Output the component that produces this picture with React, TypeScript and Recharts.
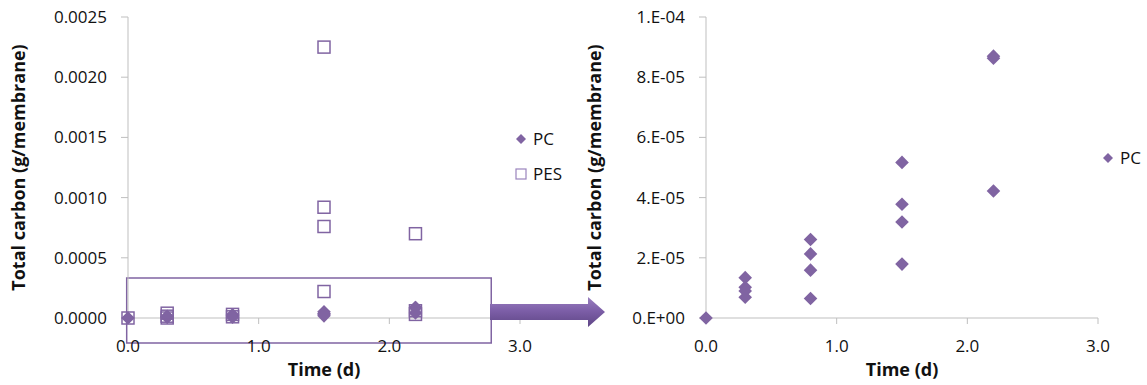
import { ScatterChart, Scatter, XAxis, YAxis, ReferenceArea, Legend } from 'recharts'

// time points (d) and total carbon (g/membrane)
const PC_TIME = [0, 0.3, 0.3, 0.3, 0.3, 0.8, 0.8, 0.8, 0.8, 1.5, 1.5, 1.5, 1.5, 2.2, 2.2, 2.2]
const PC_CARBON = [
  0, 1.34e-5, 1.02e-5, 0.9e-5, 0.69e-5, 2.61e-5, 2.13e-5, 1.59e-5, 0.65e-5, 5.17e-5, 3.78e-5, 3.19e-5,
  1.79e-5, 8.7e-5, 8.63e-5, 4.22e-5,
]
const PES_TIME = [0, 0.3, 0.3, 0.3, 0.8, 0.8, 1.5, 1.5, 1.5, 1.5, 2.2, 2.2, 2.2]
const PES_CARBON = [0, 4e-5, 1.5e-5, 0, 3e-5, 1e-5, 2.25e-3, 9.2e-4, 7.6e-4, 2.2e-4, 7e-4, 6e-5, 3e-5]

const X_TICKS = [0, 1, 2, 3]
const LEFT_Y_TICKS = [0, 0.0005, 0.001, 0.0015, 0.002, 0.0025]
const RIGHT_Y_TICKS = [0, 2e-5, 4e-5, 6e-5, 8e-5, 1e-4]
const RIGHT_Y_LABELS = ['0.E+00', '2.E-05', '4.E-05', '6.E-05', '8.E-05', '1.E-04']

// zoom box drawn on the left chart (data units)
const ZOOM_X = [-0.01, 2.78]
const ZOOM_Y = [-0.000208, 0.000332]

const PURPLE = '#8064A2'
const AXIS = '#BFBFBF'
const FONT = '"Open Sans", sans-serif'

const pcData = PC_TIME.map((t, i) => ({ t, c: PC_CARBON[i] }))
const pesData = PES_TIME.map((t, i) => ({ t, c: PES_CARBON[i] }))

const tickStyle = { fontSize: 17, fill: '#111', fontFamily: FONT }
const titleStyle = { fontSize: 18, fontWeight: 700, fill: '#111', fontFamily: FONT }

const Diamond = ({ cx, cy }: { cx?: number; cy?: number }) => {
  if (cx == null || cy == null) return null
  const r = 6.8
  return <polygon points={`${cx},${cy - r} ${cx + r},${cy} ${cx},${cy + r} ${cx - r},${cy}`} fill={PURPLE} />
}

const OpenSquare = ({ cx, cy }: { cx?: number; cy?: number }) => {
  if (cx == null || cy == null) return null
  return <rect x={cx - 6} y={cy - 6} width={12} height={12} fill="none" stroke={PURPLE} strokeWidth={1.5} />
}

const LegendIcon = ({ type }: { type: string }) => (
  <svg width={12} height={12} style={{ display: 'block' }}>
    {type === 'square' ? (
      <rect x={1} y={1} width={10} height={10} fill="none" stroke="#9a84bd" strokeWidth={1.2} />
    ) : (
      <polygon points="6,1 11,6 6,11 1,6" fill={PURPLE} />
    )}
  </svg>
)

const ICONS: Record<string, string> = { PC: 'diamond', PES: 'square' }

const renderLegend = (props: any) => {
  const { payload = [] } = props
  return (
    <div style={{ fontFamily: FONT, fontSize: 17, color: '#111' }}>
      {payload.map((entry: any) => (
        <div key={entry.value} style={{ display: 'flex', alignItems: 'center', height: 35 }}>
          <LegendIcon type={ICONS[entry.value]} />
          <span style={{ marginLeft: 6 }}>{entry.value}</span>
        </div>
      ))}
    </div>
  )
}

export default function App() {
  return (
    <div style={{ position: 'absolute', left: 0, top: 0, width: 1147, height: 385, background: '#fff' }}>
      <div style={{ position: 'absolute', left: 0, top: 0 }}>
        <ScatterChart width={560} height={385} margin={{ top: 17, right: 40, bottom: 0, left: 0 }}>
          <XAxis
            type="number"
            dataKey="t"
            domain={[0, 3]}
            ticks={X_TICKS}
            tickFormatter={(v: number) => v.toFixed(1)}
            stroke={AXIS}
            tick={tickStyle}
            tickSize={6}
            tickMargin={16}
            height={67}
            label={{ value: 'Time (d)', position: 'insideBottom', offset: 9, style: titleStyle }}
          />
          <YAxis
            type="number"
            dataKey="c"
            domain={[0, 0.0025]}
            ticks={LEFT_Y_TICKS}
            tickFormatter={(v: number) => v.toFixed(4)}
            stroke={AXIS}
            tick={tickStyle}
            tickSize={7}
            tickMargin={14}
            width={128}
            label={{
              value: 'Total carbon (g/membrane)',
              angle: -90,
              position: 'insideLeft',
              offset: 19,
              style: { ...titleStyle, textAnchor: 'middle' },
            }}
          />
          <Scatter name="PC" data={pcData} shape={<Diamond />} fill={PURPLE} isAnimationActive={false} />
          <Scatter name="PES" data={pesData} shape={<OpenSquare />} fill={PURPLE} isAnimationActive={false} />
          <ReferenceArea
            x1={ZOOM_X[0]}
            x2={ZOOM_X[1]}
            y1={ZOOM_Y[0]}
            y2={ZOOM_Y[1]}
            ifOverflow="visible"
            fill="none"
            stroke={PURPLE}
            strokeWidth={1.5}
            fillOpacity={0}
          />
          <Legend
            layout="vertical"
            verticalAlign="middle"
            align="center"
            content={renderLegend}
            wrapperStyle={{ left: 515, top: 121, width: 80 }}
          />
        </ScatterChart>
      </div>

      <div style={{ position: 'absolute', left: 560, top: 0 }}>
        <ScatterChart width={587} height={385} margin={{ top: 17, right: 49, bottom: 0, left: 0 }}>
          <XAxis
            type="number"
            dataKey="t"
            domain={[0, 3]}
            ticks={X_TICKS}
            tickFormatter={(v: number) => v.toFixed(1)}
            stroke={AXIS}
            tick={tickStyle}
            tickSize={6}
            tickMargin={16}
            height={67}
            label={{ value: 'Time (d)', position: 'insideBottom', offset: 9, style: titleStyle }}
          />
          <YAxis
            type="number"
            dataKey="c"
            domain={[0, 1e-4]}
            ticks={RIGHT_Y_TICKS}
            tickFormatter={(v: number) => RIGHT_Y_LABELS[RIGHT_Y_TICKS.indexOf(v)] ?? ''}
            stroke={AXIS}
            tick={tickStyle}
            tickSize={7}
            tickMargin={14}
            width={146}
            label={{
              value: 'Total carbon (g/membrane)',
              angle: -90,
              position: 'insideLeft',
              offset: 35,
              style: { ...titleStyle, textAnchor: 'middle' },
            }}
          />
          <Scatter name="PC" data={pcData} shape={<Diamond />} fill={PURPLE} isAnimationActive={false} />
          <Legend
            layout="vertical"
            verticalAlign="middle"
            align="center"
            content={renderLegend}
            wrapperStyle={{ left: 542, top: 140, width: 60 }}
          />
        </ScatterChart>
      </div>

      {/* arrow linking the zoom box to the right chart */}
      <svg width={1147} height={385} style={{ position: 'absolute', left: 0, top: 0, pointerEvents: 'none' }}>
        <defs>
          <linearGradient id="arrowFill" x1="0" y1="0" x2="0" y2="1">
            <stop offset="0" stopColor="#9a80c0" />
            <stop offset="0.45" stopColor="#7d5fa8" />
            <stop offset="1" stopColor="#5e4585" />
          </linearGradient>
        </defs>
        <path d="M490,304 L588,304 L588,297 L605,312 L588,327 L588,320 L490,320 Z" fill="url(#arrowFill)" />
      </svg>
    </div>
  )
}
